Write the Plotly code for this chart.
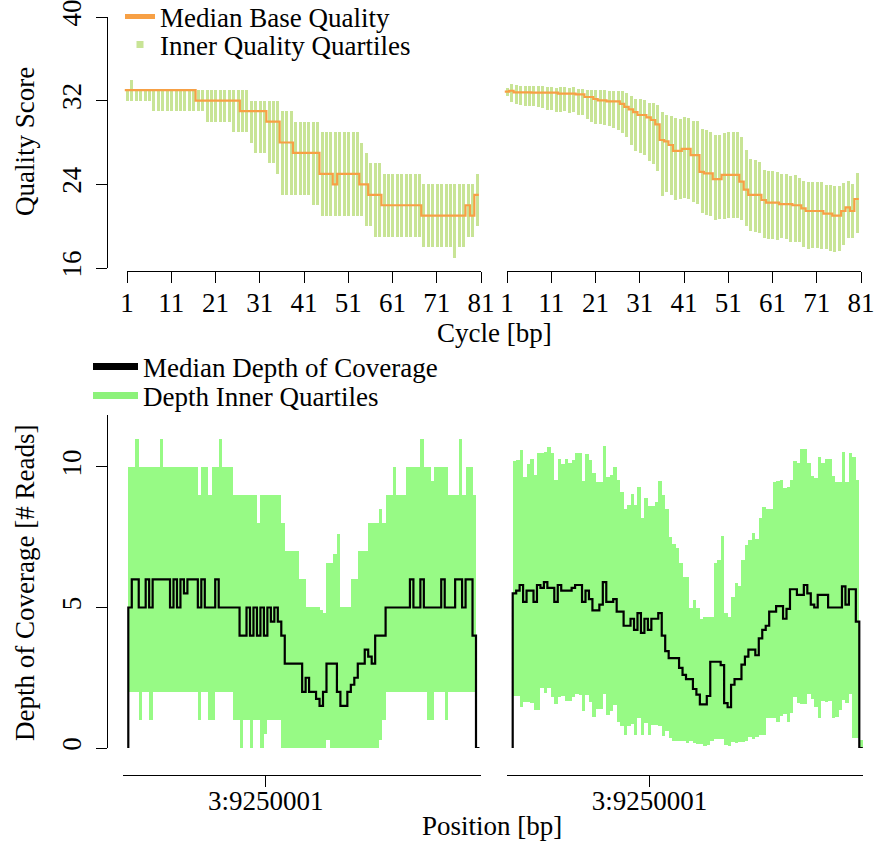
import plotly.graph_objects as go

W, H = 875, 847
def fx(px):
    return px / W
def fy(py):
    return 1 - py / H

# ---------------- data: base quality per cycle ----------------
cycles = list(range(1, 81))

ql_q1 = [32, 32, 32, 32, 32, 32, 31, 31, 31, 31, 31, 31, 31, 31, 31, 31, 31, 31, 30, 30,
         30, 30, 30, 30, 29, 29, 29, 29, 28, 27, 27, 27, 26, 26, 25, 23, 23, 23, 23, 23,
         23, 23, 22, 22, 21, 21, 21, 21, 21, 21, 21, 21, 21, 21, 20, 20, 19, 19, 19, 19,
         19, 19, 19, 19, 19, 19, 19, 18, 18, 18, 18, 18, 18, 18, 17, 18, 18, 19, 19, 20]
ql_q3 = [33, 34, 33, 33, 33, 33, 33, 33, 33, 33, 33, 33, 33, 33, 33, 33, 33, 33, 33, 33,
         33, 33, 33, 33, 33, 33, 33, 33, 32, 32, 32, 32, 32, 32, 32, 31, 31, 31, 30, 30,
         30, 30, 30, 30, 29, 29, 29, 29, 29, 29, 29, 29, 29, 28, 27, 26, 26, 26, 25, 25,
         25, 25, 25, 25, 25, 25, 25, 24, 24, 24, 24, 24, 24, 24, 24, 24, 24, 24, 24, 25]
ql_med = [33, 33, 33, 33, 33, 33, 33, 33, 33, 33, 33, 33, 33, 33, 33, 33, 32, 32, 32, 32,
          32, 32, 32, 32, 32, 32, 31, 31, 31, 31, 31, 31, 30, 30, 30, 28, 28, 28, 27, 27,
          27, 27, 27, 27, 25, 25, 25, 24, 25, 25, 25, 25, 25, 24, 24, 23, 23, 23, 22, 22,
          22, 22, 22, 22, 22, 22, 22, 21, 21, 21, 21, 21, 21, 21, 21, 21, 21, 22, 21, 23]

qr_q1 = [32.48, 31.9, 31.7, 31.6, 31.5, 31.5, 31.46, 31.4, 31.3, 31.1, 31.1, 30.95, 30.95, 31.0, 30.8, 30.95, 30.6, 30.6, 30.2, 30.0,
         29.8, 29.77, 29.67, 29.6, 29.35, 29.2, 28.94, 28.5, 27.76, 27.19, 27.0, 26.8, 26.2, 25.98, 25.3, 22.9, 23.3, 23.0, 22.53, 22.6,
         22.7, 22.6, 22.3, 22.15, 21.3, 21.1, 21.0, 20.6, 20.7, 20.65, 20.75, 20.75, 20.75, 20.6, 20.05, 19.5, 19.4, 19.3, 18.9, 18.77,
         18.77, 18.7, 18.9, 18.77, 18.5, 18.5, 18.45, 18.04, 17.8, 17.9, 17.9, 17.85, 17.8, 17.65, 17.5, 17.6, 18.2, 18.9, 18.9, 19.36]
qr_q3 = [33.18, 33.6, 33.5, 33.4, 33.4, 33.4, 33.4, 33.4, 33.4, 33.3, 33.3, 33.2, 33.3, 33.3, 33.2, 33.3, 33.1, 33.1, 33.05, 33.05,
         33.05, 33.05, 33.05, 32.95, 32.95, 32.95, 32.9, 32.7, 32.45, 32.16, 32.2, 32.06, 31.8, 31.8, 31.6, 30.9, 30.6, 30.5, 30.37, 30.25,
         30.4, 30.3, 30.1, 30.1, 29.26, 29.2, 28.96, 28.7, 28.7, 28.9, 29.0, 29.0, 29.0, 28.5, 27.3, 26.4, 26.3, 26.1, 25.4, 25.28,
         25.28, 25.15, 25.0, 25.0, 24.75, 24.9, 24.6, 24.3, 24.2, 24.2, 24.2, 24.2, 23.9, 23.9, 23.8, 23.8, 24.1, 24.3, 24.0, 25.05]
qr_med = [32.86, 32.95, 32.8, 32.8, 32.8, 32.8, 32.76, 32.76, 32.76, 32.76, 32.76, 32.76, 32.67, 32.67, 32.67, 32.67, 32.6, 32.6, 32.35, 32.35,
          32.16, 32.03, 32.03, 31.94, 31.94, 31.94, 31.7, 31.4, 31.17, 30.9, 30.63, 30.63, 30.4, 30.15, 29.74, 28.24, 28.1, 27.76, 27.2, 27.2,
          27.4, 27.4, 26.8, 26.8, 25.2, 25.05, 25.05, 24.5, 24.5, 24.9, 24.9, 24.9, 24.9, 24.25, 23.5, 23.0, 23.0, 23.0, 22.5, 22.25,
          22.25, 22.25, 22.1, 22.1, 22.1, 22.0, 22.0, 21.7, 21.45, 21.45, 21.45, 21.45, 21.2, 21.2, 21.0, 21.0, 21.45, 21.8, 21.45, 22.6]

cycle_ticks = [1, 11, 21, 31, 41, 51, 61, 71, 81]

# ---------------- data: depth of coverage per position ----------------
positions = list(range(9249962, 9250063))   # 101 positions, 9250001 is the 40th
pos_tick = [9250001]
pos_ticktext = ["3:9250001"]

cl_med = [5, 6, 6, 5, 5, 6, 5, 6, 6, 6,
          6, 6, 5, 6, 5, 6, 5.5, 6, 6, 6,
          5, 6, 5, 5, 5, 6, 5, 5, 5, 5,
          5, 5, 4, 4, 5, 4, 5, 4, 5, 4,
          5, 4.5, 5, 4.5, 4, 3, 3, 3, 3, 3,
          2, 2.5, 2, 2, 1.75, 1.5, 2, 3, 3, 3,
          2, 1.5, 1.5, 2, 2.25, 2.5, 3, 3, 3.5, 3.25,
          3, 4, 4, 4, 5, 5, 5, 5, 5, 5,
          5, 6, 5, 5, 6, 5, 5, 5, 5, 5,
          6, 5, 5, 5, 6, 6, 5, 6, 6, 4,
          0]
cl_q3 = [10, 10, 11, 10, 10, 10, 10, 10, 10, 11,
         10, 10, 10, 10, 10, 10, 10, 10, 10, 10,
         9, 10, 10, 9, 10, 10, 11, 10, 10, 10,
         9, 9, 9, 9, 9, 9, 9, 8, 9, 9,
         9, 9, 9, 9, 8, 7, 7, 7, 7, 6,
         6, 5, 5, 5, 5, 4.9, 4.8, 6.6, 6.6, 6.9,
         7.6, 5, 5, 5, 6, 6, 7, 7, 7, 8,
         8, 8, 8.5, 8, 9, 9, 10, 9, 9, 9,
         10, 10, 10, 10, 11, 10, 10, 9.5, 10, 10,
         10, 10, 9, 9, 9, 11, 9, 10, 10, 9,
         0]
cl_q1 = [2, 2, 2, 1, 2, 2, 1, 2, 2, 2,
         2, 2, 2, 2, 2, 2, 2, 2, 2, 2,
         1, 2, 2, 1, 1, 2, 2, 2, 2, 2,
         1, 1, 0, 1, 1, 0, 1, 1, 0, 0.5,
         1, 1, 1, 1, 0, 0, 0, 0, 0, 0,
         0, 0, 0, 0, 0, 0, 0, 0.3, 0, 0,
         0, 0, 0, 0, 0, 0, 0, 0, 0, 0,
         0, 0, 0.3, 1, 2, 2, 2, 2, 2, 2,
         2, 2, 2, 2, 2, 2, 1, 1, 2, 2,
         2, 1, 2, 2, 2, 2, 2, 2, 2, 2,
         0]

cr_med = [5.5, 5.6, 5.8, 5.2, 5.6, 5.6, 5.2, 5.8, 5.7, 5.9,
          5.7, 5.7, 5.2, 5.8, 5.6, 5.6, 5.6, 5.7, 5.8, 5.8,
          5.2, 5.6, 5.3, 4.9, 4.9, 5.1, 5.9, 5.2, 5.2, 5.3,
          4.85, 4.85, 4.35, 4.35, 4.6, 4.2, 4.8, 4.1, 4.6, 4.2,
          4.6, 4.6, 4.8, 4.0, 3.45, 3.2, 3.2, 3.2, 2.85, 2.6,
          2.45, 2.45, 2.1, 1.9, 1.55, 1.55, 1.85, 3.07, 3.07, 3.07,
          2.95, 1.6, 1.45, 2.25, 2.45, 2.45, 2.97, 3.25, 3.5, 3.5,
          3.3, 3.9, 4.2, 4.35, 4.85, 4.85, 5.05, 5.05, 4.6, 4.95,
          5.65, 5.65, 5.45, 5.45, 5.8, 5.5, 5.1, 5.0, 5.45, 5.45,
          5.45, 5.0, 5.0, 5.0, 5.0, 5.75, 5.1, 5.65, 5.65, 4.5,
          0]
cr_q3 = [10.2, 10.25, 10.6, 9.65, 10.1, 10.3, 9.7, 10.5, 10.5, 10.55,
         10.7, 10.5, 9.55, 10.3, 10.1, 10.3, 10.15, 10.25, 10.5, 10.5,
         9.5, 10.45, 10.25, 9.8, 9.45, 9.45, 10.75, 9.65, 9.7, 10.0,
         9.55, 9.1, 8.5, 8.65, 9.05, 8.65, 9.3, 8.2, 8.9, 8.6,
         8.6, 8.75, 9.5, 9.0, 8.5, 7.5, 7.25, 7.1, 6.6, 6.1,
         6.07, 4.97, 5.27, 4.97, 4.6, 4.65, 4.65, 4.65, 6.57, 6.7,
         7.55, 4.8, 4.67, 5.36, 5.86, 5.77, 6.7, 7.22, 7.4, 7.66,
         7.43, 8.2, 8.56, 8.5, 8.5, 9.48, 9.5, 9.55, 9.24, 9.3,
         9.55, 10.2, 10.15, 10.63, 10.63, 10.15, 9.68, 9.6, 10.35, 10.13,
         10.27, 10.27, 9.68, 9.48, 9.48, 10.55, 9.48, 10.5, 10.37, 9.54,
         0.3]
cr_q1 = [1.85, 1.85, 1.45, 1.65, 1.65, 1.59, 1.35, 1.35, 2.12, 1.95,
         2.12, 1.8, 1.57, 1.83, 1.85, 1.68, 1.68, 1.83, 1.92, 1.88,
         1.3, 1.88, 1.65, 1.1, 1.4, 1.4, 1.92, 1.17, 1.3, 1.53,
         0.94, 0.78, 0.46, 0.78, 0.85, 0.46, 1.05, 0.46, 0.88, 0.46,
         0.82, 0.82, 0.78, 0.43, 0.62, 0.34, 0.26, 0.26, 0.26, 0.26,
         0.19, 0.26, 0.17, 0.14, 0.14, 0.07, 0.1, 0.26, 0.31, 0.31,
         0.31, 0.1, 0.07, 0.23, 0.19, 0.23, 0.23, 0.26, 0.38, 0.31,
         0.38, 0.46, 0.46, 1.05, 1.05, 1.05, 0.94, 1.14, 1.2, 0.94,
         1.25, 1.8, 1.61, 1.57, 1.57, 1.92, 1.73, 1.45, 1.05, 1.68,
         1.65, 1.68, 1.05, 1.1, 1.37, 1.7, 1.61, 1.92, 0.34, 0.34,
         0]

# ---------------- styles ----------------
FONT = "Liberation Serif, Times New Roman, Times, serif"
FS = 27
QBAR = "#c8e496"
QMED = "#f7a045"
DBAR = "#97fa85"
DLEG = "#8cf27a"

fig = go.Figure()

def step_line(xs, vals, start_zero=False):
    xe = [x - 0.5 for x in xs] + [xs[-1] + 0.5]
    ye = list(vals) + [vals[-1]]
    if start_zero:
        xe = [xe[0]] + xe
        ye = [0] + ye
    return xe, ye

# top-left
fig.add_trace(go.Bar(x=cycles, y=[b - a for a, b in zip(ql_q1, ql_q3)], base=ql_q1,
                     width=0.68, marker=dict(color=QBAR, line_width=0),
                     xaxis="x", yaxis="y", showlegend=False, hoverinfo="skip"))
xs, ys = step_line(cycles, ql_med)
fig.add_trace(go.Scatter(x=xs, y=ys, mode="lines", line=dict(color=QMED, width=2.2, shape="hv"),
                         xaxis="x", yaxis="y", showlegend=False, hoverinfo="skip"))
# top-right
fig.add_trace(go.Bar(x=cycles, y=[b - a for a, b in zip(qr_q1, qr_q3)], base=qr_q1,
                     width=0.68, marker=dict(color=QBAR, line_width=0),
                     xaxis="x2", yaxis="y", showlegend=False, hoverinfo="skip"))
xs, ys = step_line(cycles, qr_med)
fig.add_trace(go.Scatter(x=xs, y=ys, mode="lines", line=dict(color=QMED, width=2.2, shape="hv"),
                         xaxis="x2", yaxis="y", showlegend=False, hoverinfo="skip"))
# decorative cycle axes (hold the tick marks / axis line)
for ax in ("x3", "x4"):
    fig.add_trace(go.Scatter(x=[None], y=[None], xaxis=ax, yaxis="y", showlegend=False, hoverinfo="skip"))

# bottom-left
fig.add_trace(go.Bar(x=positions, y=[b - a for a, b in zip(cl_q1, cl_q3)], base=cl_q1,
                     width=1.0, marker=dict(color=DBAR, line_width=0),
                     xaxis="x5", yaxis="y2", showlegend=False, hoverinfo="skip"))
xs, ys = step_line(positions, cl_med, start_zero=True)
fig.add_trace(go.Scatter(x=xs, y=ys, mode="lines", line=dict(color="black", width=2.2, shape="hv"),
                         xaxis="x5", yaxis="y2", showlegend=False, hoverinfo="skip"))
# bottom-right
fig.add_trace(go.Bar(x=positions, y=[b - a for a, b in zip(cr_q1, cr_q3)], base=cr_q1,
                     width=1.0, marker=dict(color=DBAR, line_width=0),
                     xaxis="x6", yaxis="y2", showlegend=False, hoverinfo="skip"))
xs, ys = step_line(positions, cr_med, start_zero=True)
fig.add_trace(go.Scatter(x=xs, y=ys, mode="lines", line=dict(color="black", width=2.2, shape="hv"),
                         xaxis="x6", yaxis="y2", showlegend=False, hoverinfo="skip"))

# legend entries
fig.add_trace(go.Scatter(x=[None], y=[None], mode="lines", name="Median Base Quality",
                         line=dict(color=QMED, width=5), legend="legend", xaxis="x", yaxis="y"))
fig.add_trace(go.Scatter(x=[None], y=[None], mode="markers", name="Inner Quality Quartiles",
                         marker=dict(color=QBAR, size=7, symbol="square"), legend="legend2", xaxis="x", yaxis="y"))
fig.add_trace(go.Scatter(x=[None], y=[None], mode="lines", name="Median Depth of Coverage",
                         line=dict(color="black", width=7), legend="legend3", xaxis="x5", yaxis="y2"))
fig.add_trace(go.Scatter(x=[None], y=[None], mode="lines", name="Depth Inner Quartiles",
                         line=dict(color=DLEG, width=7), legend="legend4", xaxis="x5", yaxis="y2"))

tickfont = dict(family=FONT, size=FS, color="black")
hidden = dict(visible=False, showgrid=False, zeroline=False, automargin=False)
deco = dict(showline=True, linecolor="black", linewidth=1.3, ticks="outside", ticklen=11,
            tickwidth=1.3, tickcolor="black", showgrid=False, zeroline=False, tickfont=tickfont,
            anchor="free", automargin=False, ticklabeloverflow="allow")

pos_px0 = positions[0] - 0.5

leg = dict(bgcolor="rgba(0,0,0,0)", borderwidth=0, font=dict(family=FONT, size=FS, color="black"),
           xanchor="left", yanchor="middle")
ann_font = dict(family=FONT, size=FS, color="black")

fig.update_layout(
    width=W, height=H, margin=dict(l=0, r=0, t=0, b=0, pad=0, autoexpand=False),
    paper_bgcolor="white", plot_bgcolor="rgba(0,0,0,0)",
    font=dict(family=FONT, size=FS, color="black"),
    bargap=0,
    xaxis=dict(domain=[fx(122.575), fx(485.425)], range=[0, 82], anchor="y", **hidden),
    xaxis2=dict(domain=[fx(502.575), fx(865.425)], range=[0, 82], anchor="y", **hidden),
    xaxis3=dict(domain=[fx(127), fx(481)], range=[1, 81], position=fy(271),
                tickvals=cycle_ticks, ticklabelstandoff=-4, **deco),
    xaxis4=dict(domain=[fx(507), fx(861)], range=[1, 81], position=fy(271),
                tickvals=cycle_ticks, ticklabelstandoff=-4, **deco),
    yaxis=dict(domain=[fy(268), fy(17)], range=[16, 40], position=fx(107),
               tickvals=[16, 24, 32, 40], tickangle=-90, ticklabelstandoff=4, **deco),
    xaxis5=dict(domain=[fx(123), fx(481)],
                range=[pos_px0 - 5.3 / 3.477, pos_px0 + (481 - 128.3) / 3.477],
                position=fy(775), tickvals=pos_tick, ticktext=pos_ticktext,
                ticklabelstandoff=-10, **deco),
    xaxis6=dict(domain=[fx(507), fx(863)],
                range=[pos_px0 - 5.7 / 3.466, pos_px0 + (863 - 512.7) / 3.466],
                position=fy(775), tickvals=pos_tick, ticktext=pos_ticktext,
                ticklabelstandoff=-10, **deco),
    yaxis2=dict(domain=[fy(748), fy(415)], range=[0, 11.85], position=fx(107),
                tickvals=[0, 5, 10], tickangle=-90, ticklabelstandoff=4, **deco),
    legend=dict(x=fx(120), y=fy(17), **leg),
    legend2=dict(x=fx(120), y=fy(45), **leg),
    legend3=dict(x=fx(88), y=fy(367), itemwidth=45, **leg),
    legend4=dict(x=fx(88), y=fy(396), itemwidth=45, **leg),
    annotations=[
        dict(text="Quality Score", x=fx(25), y=fy(142), xref="paper", yref="paper",
             xanchor="center", yanchor="middle", showarrow=False, textangle=-90, font=ann_font),
        dict(text="Depth of Coverage [# Reads]", x=fx(25), y=fy(583), xref="paper", yref="paper",
             xanchor="center", yanchor="middle", showarrow=False, textangle=-90, font=ann_font),
        dict(text="Cycle [bp]", x=fx(494), y=fy(333), xref="paper", yref="paper",
             xanchor="center", yanchor="middle", showarrow=False, font=ann_font),
        dict(text="Position [bp]", x=fx(492), y=fy(826), xref="paper", yref="paper",
             xanchor="center", yanchor="middle", showarrow=False, font=ann_font),
    ],
)

fig.write_html("out.html")
